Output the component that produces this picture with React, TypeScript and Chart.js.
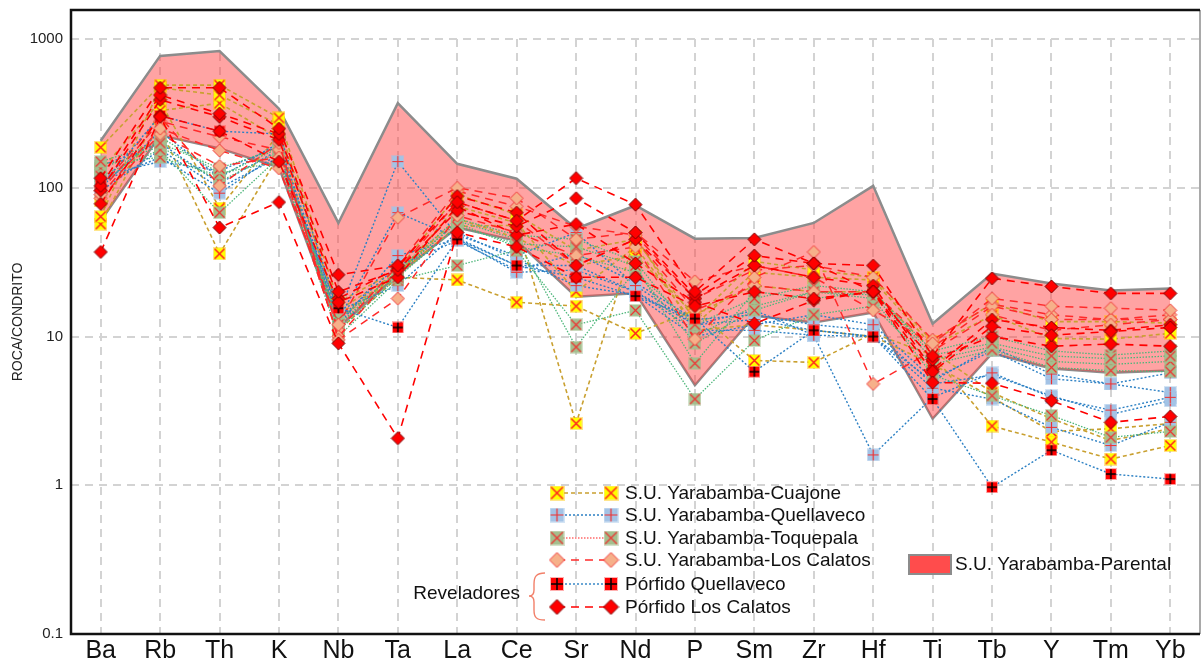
import { useEffect, useRef } from 'react';
import { Chart, registerables } from 'chart.js';

Chart.register(...registerables);

// Elements on the horizontal axis (chondrite-normalised spider diagram)
const elements = ['Ba', 'Rb', 'Th', 'K', 'Nb', 'Ta', 'La', 'Ce', 'Sr', 'Nd', 'P', 'Sm', 'Zr', 'Hf', 'Ti', 'Tb', 'Y', 'Tm', 'Yb'];
const yTickValues = [0.1, 1, 10, 100, 1000];
const yMax = 1567;

// S.U. Yarabamba-Cuajone samples
const cuajone1 = [187, 490, 490, 295, 17, 28, 90, 66, 38, 45, 13, 32, 28, 25, 9.2, 16.7, 12.6, 12.6, 12.3];
const cuajone2 = [64, 470, 420, 265, 14, 26, 75, 58, 20, 40, 12, 27, 25, 24, 8.6, 13.9, 9.7, 9.6, 10.5];
const cuajone3 = [57, 330, 370, 215, 11, 25, 24, 17, 16, 10.5, 15, 6.9, 6.7, 10.5, 7.5, 2.5, 1.95, 1.5, 1.85];
const cuajone4 = [82, 250, 36, 165, 13, 26, 55, 56, 2.6, 47, 11, 12, 11, 10, 6.5, 3.9, 2.3, 2.4, 2.6];
const cuajone5 = [130, 380, 73, 230, 15, 27, 62, 46, 30, 35, 14, 22, 20, 20, 8, 4.2, 2.8, 2.0, 2.4];

// S.U. Yarabamba-Quellaveco samples
const quellaveco1 = [100, 240, 117, 200, 14, 150, 48, 35, 50, 22, 12, 15, 10.2, 10, 5, 8.5, 5.6, 4.8, 5.7];
const quellaveco2 = [140, 200, 107, 180, 13, 68, 46, 30, 30, 20, 11, 11, 10.2, 1.6, 3.9, 5.7, 3.9, 3.2, 3.9];
const quellaveco3 = [110, 160, 92, 170, 12, 35, 45, 27, 28, 20, 12, 13, 11, 10, 4.5, 3.8, 2.45, 1.85, 2.65];
const quellaveco4 = [95, 180, 100, 160, 15, 22, 50, 33, 22, 19, 10, 12, 14, 12, 5.2, 8, 5.2, 4.8, 4.2];
const quellaveco5 = [120, 150, 130, 190, 13, 30, 44, 28, 36, 23, 13, 14, 12, 11, 4.8, 5.5, 4.0, 3.0, 3.7];

// S.U. Yarabamba-Toquepala samples
const toquepala1 = [150, 200, 135, 186, 11, 25, 55, 42, 40, 30, 6.6, 20, 18, 20, 7.5, 9, 7.4, 7.1, 7.4];
const toquepala2 = [120, 180, 68, 160, 10, 24, 30, 38, 12, 15, 3.8, 9.4, 14, 16, 6.5, 8.1, 6.2, 5.9, 5.8];
const toquepala3 = [105, 220, 125, 150, 12, 26, 60, 45, 8.5, 28, 9, 15, 20, 18, 5.5, 4.0, 2.95, 2.1, 2.3];
const toquepala4 = [135, 190, 110, 175, 13, 27, 58, 40, 35, 27, 12, 18, 22, 20, 8, 10, 8, 7.5, 8];
const toquepala5 = [145, 160, 120, 185, 12, 28, 62, 48, 45, 32, 10, 16, 20, 19, 7, 8.5, 6.8, 6.5, 6.8];

// S.U. Yarabamba-Los Calatos samples
const losCalatos1 = [90, 250, 178, 135, 12, 63, 100, 85, 45, 50, 23.5, 30, 25, 15, 9, 18, 16, 15.5, 15];
const losCalatos2 = [100, 300, 103, 200, 9.5, 18, 65, 50, 35, 40, 9.6, 25, 37, 4.8, 8, 14, 11, 12, 13];
const losCalatos3 = [85, 230, 140, 160, 10, 28, 80, 60, 30, 45, 15, 22, 20, 20, 8.5, 16, 13, 13, 14];
const losCalatos4 = [95, 280, 220, 180, 11, 30, 95, 75, 55, 48, 18, 28, 30, 25, 9.5, 16.5, 14, 13, 13];

// Pórfido Quellaveco
const porfidoQuellaveco1 = [103, 305, 240, 230, 15.5, 11.5, 45, 30, 25, 18.7, 13.2, 5.8, 11, 10, 3.8, 0.97, 1.72, 1.19, 1.1];

// Pórfido Los Calatos
const porfidoLosCalatos1 = [116, 470, 470, 250, 26, 30, 80, 60, 116, 77, 20, 45, 31, 30, 7.4, 24.6, 21.7, 19.5, 19.5];
const porfidoLosCalatos2 = [37, 300, 54, 80, 9, 2.07, 50, 40, 25, 25, 16, 20, 18, 20, 4.9, 4.85, 3.7, 2.65, 2.9];
const porfidoLosCalatos3 = [103, 420, 315, 230, 20, 28, 70, 55, 85, 50, 19, 35, 31, 20, 5.8, 11.7, 10.2, 10.8, 11.5];
const porfidoLosCalatos4 = [78, 305, 240, 150, 17, 25, 75, 48, 57, 31, 17, 12.2, 17.5, 20, 7, 10, 8.6, 8.9, 8.6];
const porfidoLosCalatos5 = [96, 390, 300, 210, 18, 29, 88, 68, 30, 45, 18, 30, 25, 22, 6, 13, 11.5, 11, 12];

// S.U. Yarabamba-Parental envelope
const parentalUpper = [207, 770, 830, 340, 58, 370, 145, 115, 53, 76, 45.5, 46, 58, 103, 12.2, 26.5, 22.7, 20.4, 21];
const parentalLower = [60, 225, 184, 137, 11.5, 26, 54, 44, 18.5, 19.5, 4.7, 13.8, 12.4, 14.5, 2.8, 7.7, 6.1, 5.7, 5.9];

const FONT = "'Liberation Sans', Arial, sans-serif";
const PLOT_RIGHT = 1200;

type MarkerKind = 'cuajone' | 'quellaveco' | 'toquepala' | 'losCalatos' | 'porfidoQ' | 'porfidoLC';

function makeSquare(size: number, fill: string, mark: 'x' | '+', markColor: string, markWidth: number, halo?: string) {
  const pad = 1;
  const full = size + pad * 2;
  const c = document.createElement('canvas');
  c.width = full;
  c.height = full;
  const g = c.getContext('2d')!;
  if (halo) {
    g.fillStyle = halo;
    g.fillRect(0, 0, full, full);
  }
  g.fillStyle = fill;
  g.fillRect(pad, pad, size, size);
  g.strokeStyle = markColor;
  g.lineWidth = markWidth;
  g.beginPath();
  if (mark === 'x') {
    g.moveTo(pad + 0.5, pad + 0.5);
    g.lineTo(pad + size - 0.5, pad + size - 0.5);
    g.moveTo(pad + size - 0.5, pad + 0.5);
    g.lineTo(pad + 0.5, pad + size - 0.5);
  } else {
    const m = full / 2;
    g.moveTo(m, pad);
    g.lineTo(m, pad + size);
    g.moveTo(pad, m);
    g.lineTo(pad + size, m);
  }
  g.stroke();
  return c;
}

function makeDiamond(size: number, fill: string, stroke: string) {
  const full = size + 2;
  const c = document.createElement('canvas');
  c.width = full;
  c.height = full;
  const g = c.getContext('2d')!;
  const m = full / 2;
  const r = size / 2;
  g.beginPath();
  g.moveTo(m, m - r);
  g.lineTo(m + r, m);
  g.lineTo(m, m + r);
  g.lineTo(m - r, m);
  g.closePath();
  g.fillStyle = fill;
  g.fill();
  g.strokeStyle = stroke;
  g.lineWidth = 1;
  g.stroke();
  return c;
}

function makeMarker(kind: MarkerKind, size: number) {
  switch (kind) {
    case 'cuajone':
      return makeSquare(size, '#FFFF00', 'x', '#FF2020', 1.5, 'rgba(255,200,0,0.45)');
    case 'quellaveco':
      return makeSquare(size, '#A3C3E6', '+', '#F03030', 1.2, 'rgba(160,195,230,0.45)');
    case 'toquepala':
      return makeSquare(size, '#A4BF8E', 'x', '#F03030', 1.2, 'rgba(160,190,140,0.45)');
    case 'losCalatos':
      return makeDiamond(size + 2, '#F6B08A', '#F03A3A');
    case 'porfidoQ':
      return makeSquare(size - 1, '#FF0000', '+', '#000000', 1.5, 'rgba(255,80,80,0.45)');
    case 'porfidoLC':
    default:
      return makeDiamond(size + 2, '#FF0000', '#7A0000');
  }
}

interface Group {
  label: string;
  rows: number[][];
  color: string;
  legendColor: string;
  dash: number[];
  width: number;
  marker: MarkerKind;
  order: number;
}

const groups: Group[] = [
  { label: 'S.U. Yarabamba-Cuajone', rows: [cuajone1, cuajone2, cuajone3, cuajone4, cuajone5], color: '#C9A030', legendColor: '#C9A030', dash: [4, 3], width: 1.6, marker: 'cuajone', order: 6 },
  { label: 'S.U. Yarabamba-Quellaveco', rows: [quellaveco1, quellaveco2, quellaveco3, quellaveco4, quellaveco5], color: '#2C80C4', legendColor: '#2C80C4', dash: [2, 2], width: 1.4, marker: 'quellaveco', order: 5 },
  { label: 'S.U. Yarabamba-Toquepala', rows: [toquepala1, toquepala2, toquepala3, toquepala4, toquepala5], color: '#4DB67A', legendColor: '#FF6A6A', dash: [1.5, 1.5], width: 1.3, marker: 'toquepala', order: 4 },
  { label: 'S.U. Yarabamba-Los Calatos', rows: [losCalatos1, losCalatos2, losCalatos3, losCalatos4], color: '#FF2A2A', legendColor: '#FF2A2A', dash: [8, 6], width: 1.5, marker: 'losCalatos', order: 3 },
  { label: 'Pórfido Quellaveco', rows: [porfidoQuellaveco1], color: '#2C80C4', legendColor: '#2C80C4', dash: [2, 2], width: 1.4, marker: 'porfidoQ', order: 2 },
  { label: 'Pórfido Los Calatos', rows: [porfidoLosCalatos1, porfidoLosCalatos2, porfidoLosCalatos3, porfidoLosCalatos4, porfidoLosCalatos5], color: '#FF0000', legendColor: '#FF0000', dash: [8, 6], width: 1.6, marker: 'porfidoLC', order: 1 },
];

// Stretch the plot area to the right edge of the frame
const plotAreaPlugin = {
  id: 'plotArea',
  afterLayout(chart: any) {
    const x = chart.scales.x;
    chart.chartArea.right = PLOT_RIGHT;
    chart.chartArea.width = PLOT_RIGHT - chart.chartArea.left;
    x.right = PLOT_RIGHT;
    x.width = PLOT_RIGHT - x.left;
    x.configure();
  },
};

const gridPlugin = {
  id: 'dashedGrid',
  beforeDatasetsDraw(chart: any) {
    const { ctx, chartArea, scales } = chart;
    const x = scales.x;
    const y = scales.y;
    ctx.save();
    ctx.strokeStyle = '#D3D3D3';
    ctx.lineWidth = 2;
    ctx.setLineDash([8, 6]);
    ctx.beginPath();
    for (const v of [1, 10, 100, 1000]) {
      const py = Math.round(y.getPixelForValue(v));
      ctx.moveTo(chartArea.left, py);
      ctx.lineTo(chartArea.right, py);
    }
    const top = y.getPixelForValue(1000);
    elements.forEach((_, i) => {
      const px = Math.round(x.getPixelForValue(i));
      ctx.moveTo(px, top);
      ctx.lineTo(px, chartArea.bottom);
    });
    ctx.stroke();
    ctx.restore();
  },
};

const framePlugin = {
  id: 'frame',
  afterDatasetsDraw(chart: any) {
    const { ctx, chartArea } = chart;
    const { left, right, top, bottom } = chartArea;
    ctx.save();
    ctx.setLineDash([]);
    ctx.strokeStyle = '#8C8C8C';
    ctx.lineWidth = 1.5;
    ctx.beginPath();
    ctx.moveTo(right, top);
    ctx.lineTo(right, bottom);
    ctx.stroke();
    ctx.strokeStyle = '#111111';
    ctx.lineWidth = 2.5;
    ctx.beginPath();
    ctx.moveTo(right, top);
    ctx.lineTo(left, top);
    ctx.lineTo(left, bottom);
    ctx.lineTo(right, bottom);
    ctx.stroke();
    ctx.restore();
  },
};

const legendPlugin = {
  id: 'sampleLegend',
  afterDraw(chart: any) {
    const { ctx } = chart;
    ctx.save();
    const x0 = 557;
    const x1 = 611;
    const textX = 625;
    const rowY = [493, 515, 538, 560, 584, 607];
    ctx.font = `19px ${FONT}`;
    ctx.textBaseline = 'middle';
    groups.forEach((g, i) => {
      const yy = rowY[i];
      ctx.strokeStyle = g.legendColor;
      ctx.lineWidth = g.width;
      ctx.setLineDash(g.dash);
      ctx.beginPath();
      ctx.moveTo(x0, yy);
      ctx.lineTo(x1, yy);
      ctx.stroke();
      ctx.setLineDash([]);
      const m = makeMarker(g.marker, 13);
      ctx.drawImage(m, x0 - m.width / 2, yy - m.height / 2);
      ctx.drawImage(m, x1 - m.width / 2, yy - m.height / 2);
      ctx.fillStyle = '#111111';
      ctx.textAlign = 'left';
      ctx.fillText(g.label, textX, yy + 1);
    });

    // Parental envelope swatch
    ctx.fillStyle = '#FF4C4C';
    ctx.fillRect(909, 555, 42, 19);
    ctx.strokeStyle = '#8C8C8C';
    ctx.lineWidth = 2;
    ctx.strokeRect(909, 555, 42, 19);
    ctx.fillStyle = '#111111';
    ctx.fillText('S.U. Yarabamba-Parental', 955, 565);

    // "Reveladores" bracket
    ctx.textAlign = 'right';
    ctx.fillText('Reveladores', 520, 594);
    ctx.strokeStyle = '#F2806A';
    ctx.lineWidth = 1.4;
    ctx.beginPath();
    ctx.moveTo(545, 573);
    ctx.bezierCurveTo(536, 573, 534, 577, 534, 584);
    ctx.lineTo(534, 590);
    ctx.bezierCurveTo(534, 594, 532, 596, 529, 596);
    ctx.bezierCurveTo(532, 596, 534, 598, 534, 602);
    ctx.lineTo(534, 610);
    ctx.bezierCurveTo(534, 617, 536, 620, 545, 620);
    ctx.stroke();
    ctx.restore();
  },
};

export default function App() {
  const canvasRef = useRef<HTMLCanvasElement | null>(null);

  useEffect(() => {
    if (!canvasRef.current) return;

    const datasets: any[] = [];
    groups.forEach((g) => {
      const marker = makeMarker(g.marker, 11);
      g.rows.forEach((row) => {
        datasets.push({
          label: g.label,
          data: row,
          borderColor: g.color,
          borderWidth: g.width,
          borderDash: g.dash,
          pointStyle: marker,
          pointRadius: 6,
          tension: 0,
          fill: false,
          order: g.order,
        });
      });
    });
    datasets.push({
      label: 'S.U. Yarabamba-Parental',
      data: parentalUpper,
      borderColor: '#8C8C8C',
      borderWidth: 2.5,
      pointRadius: 0,
      fill: '+1',
      backgroundColor: 'rgba(255,62,62,0.48)',
      tension: 0,
      order: 100,
    });
    datasets.push({
      label: 'S.U. Yarabamba-Parental (min)',
      data: parentalLower,
      borderColor: '#8C8C8C',
      borderWidth: 2.5,
      pointRadius: 0,
      fill: false,
      tension: 0,
      order: 101,
    });

    const chart = new Chart(canvasRef.current, {
      type: 'line',
      data: { labels: elements, datasets },
      options: {
        animation: false,
        responsive: false,
        devicePixelRatio: 1,
        layout: { padding: { top: 10, right: 2, left: 0, bottom: 0 } },
        plugins: {
          legend: { display: false },
          tooltip: { enabled: false },
        },
        scales: {
          x: {
            type: 'category',
            offset: true,
            grid: { display: false, drawTicks: false },
            border: { display: false },
            ticks: {
              color: '#111111',
              padding: 2,
              maxRotation: 0,
              autoSkip: false,
              font: { family: FONT, size: 25 },
            },
            afterFit(scale: any) {
              scale.height = 30;
              scale.paddingLeft = 0;
              scale.paddingRight = 0;
            },
          },
          y: {
            type: 'logarithmic',
            min: 0.1,
            max: yMax,
            grid: { display: false, drawTicks: false },
            border: { display: false },
            afterBuildTicks(scale: any) {
              scale.ticks = yTickValues.map((v) => ({ value: v }));
            },
            ticks: {
              color: '#222222',
              padding: 8,
              font: { family: FONT, size: 15 },
              callback: (v: any) => (Number(v) === 0.1 ? '0.1' : String(Number(v))),
            },
            title: {
              display: true,
              text: 'ROCA/CONDRITO',
              color: '#222222',
              font: { family: FONT, size: 14 },
              padding: { top: 10, bottom: 0 },
            },
            afterFit(scale: any) {
              scale.width = 71;
              scale.paddingTop = 0;
              scale.paddingBottom = 0;
            },
          },
        },
      },
      plugins: [plotAreaPlugin, gridPlugin, framePlugin, legendPlugin],
    });

    return () => chart.destroy();
  }, []);

  return (
    <div style={{ position: 'fixed', left: 0, top: 0, width: 1202, height: 664, background: '#ffffff' }}>
      <canvas ref={canvasRef} width={1202} height={664} style={{ display: 'block' }} />
    </div>
  );
}
